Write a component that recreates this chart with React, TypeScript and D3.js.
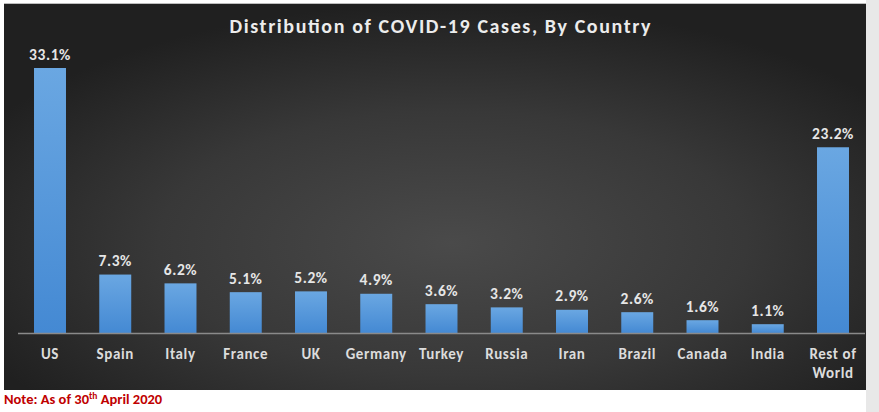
import React from "react";
import * as d3 from "d3";

const categories = ["US", "Spain", "Italy", "France", "UK", "Germany", "Turkey", "Russia", "Iran", "Brazil", "Canada", "India", "Rest of World"];
const shares = [33.1, 7.3, 6.2, 5.1, 5.2, 4.9, 3.6, 3.2, 2.9, 2.6, 1.6, 1.1, 23.2];
const titleText = "Distribution of COVID-19 Cases, By Country";

const W = 879;
const H = 412;
const baseY = 333;

export default function App() {
  const x = d3.scaleBand<string>().domain(categories).range([17.7, 865.3]).paddingInner(0.51).paddingOuter(0.25);
  const y = d3.scaleLinear().domain([0, 33.1]).range([baseY, 68]);
  const font = "Carlito, Calibri, 'Open Sans', sans-serif";

  return (
    <div style={{ position: "absolute", left: 0, top: 0 }}>
      <svg width={W} height={H} style={{ display: "block" }}>
        <defs>
          <radialGradient id="bg" cx="52%" cy="62%" r="62%">
            <stop offset="0%" stopColor="#4a4a4a" />
            <stop offset="55%" stopColor="#383838" />
            <stop offset="100%" stopColor="#202020" />
          </radialGradient>
          <linearGradient id="bar" x1="0" y1="0" x2="0" y2="1">
            <stop offset="0%" stopColor="#6aa7e2" />
            <stop offset="100%" stopColor="#4489d3" />
          </linearGradient>
        </defs>
        <rect x={0} y={0} width={W} height={H} fill="#ffffff" />
        <rect x={866} y={0} width={13} height={H} fill="#e8e8e8" />
        <rect x={4} y={3} width={862} height={387} fill="url(#bg)" />
        <line x1={4} x2={866} y1={3.5} y2={3.5} stroke="#bdbdbd" strokeWidth={1} />
        <text x={440} y={33} textAnchor="middle" fill="#ececec" fontFamily={font} fontWeight={700} fontSize={20} textLength={421} lengthAdjust="spacing">
          {titleText}
        </text>
        {categories.map((c, i) => {
          const bx = x(c)!;
          const by = y(shares[i]);
          const cx = bx + x.bandwidth() / 2;
          const words = c === "Rest of World" ? ["Rest of", "World"] : [c];
          return (
            <g key={c}>
              <rect x={bx} y={by} width={x.bandwidth()} height={baseY - by} fill="url(#bar)" />
              <text x={cx} y={by - 8.5} textAnchor="middle" fill="#e6e6e6" fontFamily={font} fontWeight={700} fontSize={15.5} letterSpacing={0.6}>
                {shares[i].toFixed(1) + "%"}
              </text>
              {words.map((w, k) => (
                <text key={k} x={cx} y={358.5 + k * 19} textAnchor="middle" fill="#dcdcdc" fontFamily={font} fontWeight={700} fontSize={15} letterSpacing={0.6}>
                  {w}
                </text>
              ))}
            </g>
          );
        })}
        <line x1={18} x2={865} y1={baseY + 0.5} y2={baseY + 0.5} stroke="#8a8a8a" strokeWidth={1.5} />
        <text x={4} y={404} fill="#c00000" fontFamily={font} fontWeight={700} fontSize={14.5}>
          Note: As of 30
          <tspan fontSize={9.5} dy={-5}>th</tspan>
          <tspan dy={5}> April 2020</tspan>
        </text>
      </svg>
    </div>
  );
}
